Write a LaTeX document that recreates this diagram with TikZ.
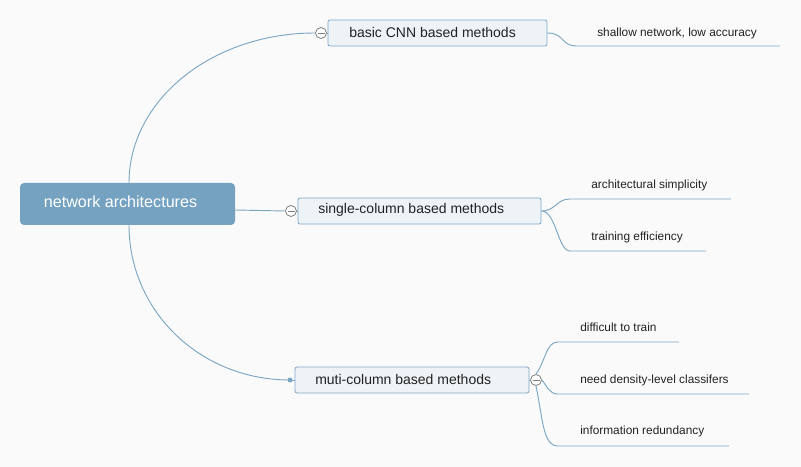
\documentclass[tikz,border=0pt]{standalone}
\usepackage{fontspec}
\setmainfont{Liberation Sans}
\definecolor{bg}{HTML}{FAFAFA}
\definecolor{lnk}{HTML}{7BA6C4}
\definecolor{rootfill}{HTML}{74A2C0}
\definecolor{boxfill}{HTML}{EEF3F7}
\definecolor{boxline}{HTML}{7DA7C7}
\definecolor{txt}{HTML}{222222}
\begin{document}
\begin{tikzpicture}[x=0.75pt,y=-0.75pt,
  link/.style={draw=lnk,line width=0.7pt},
  rootbox/.style={fill=rootfill,rounded corners=3pt,minimum width=215*0.75pt,minimum height=42*0.75pt,inner sep=0pt},
  topicbox/.style={draw=boxline,fill=boxfill,rounded corners=1.5pt,line width=0.6pt,minimum height=26*0.75pt,inner sep=0pt},
  topictext/.style={text=txt,font=\fontsize{10.5}{12}\selectfont,inner sep=0pt,anchor=west},
  leaf/.style={anchor=west,inner sep=0pt,text=txt,font=\fontsize{8.9}{10}\selectfont},
  collapse/.style={circle,draw=gray,fill=white,line width=0.6pt,minimum size=11*0.75pt,inner sep=0pt,path picture={\draw[gray,line width=0.6pt] ([xshift=-3.5*0.75pt]path picture bounding box.center) -- ([xshift=3.5*0.75pt]path picture bounding box.center);}},
  dot/.style={circle,fill=lnk,minimum size=5*0.75pt,inner sep=0pt}]
\fill[bg] (0,0) rectangle (801,467);
\useasboundingbox (0,0) rectangle (801,467);
% root
\node[rootbox] (root) at (127.5,204) {};
\node[text=white,font=\fontsize{12.1}{14}\selectfont,inner sep=0pt] (roottext) at (120.5,202) {network architectures};
% topics
\node[topicbox,minimum width=219*0.75pt] (n1) at (437.5,33) {};
\node[topictext] (t1) at (349,32) {basic CNN based methods};
\node[topicbox,minimum width=243*0.75pt] (n2) at (419.5,211) {};
\node[topictext] (t2) at (318,210) {single-column based methods};
\node[topicbox,minimum width=234*0.75pt] (n3) at (412,380) {};
\node[topictext] (t3) at (315,379) {muti-column based methods};
% root connectors
\coordinate (r1) at (129,183);
\coordinate (r3) at (129,225);
\coordinate (r2) at (235,210);
\node[collapse] (c1) at (321,33) {};
\node[collapse] (c2) at (291,211) {};
\node[dot] (d3) at (290,380) {};
\draw[link] (r1) .. controls (129,100) and (212,33) .. (c1.west);
\draw[link] (r2) -- (c2.west);
\draw[link] (r3) .. controls (129,311) and (200,380) .. (d3.center);
\draw[link] (c1.east) -- (n1.west);
\draw[link] (c2.east) -- (n2.west);
\draw[link] (d3.center) -- (n3.west);
% leaves of n1
\node[leaf] (l11) at (597,33) {shallow network, low accuracy};
\coordinate (u11a) at (577,46);
\coordinate (u11b) at (780,46);
\draw[link] (n1.east) .. controls (565,33) and (560,46) .. (u11a) -- (u11b);
% leaves of n2
\node[leaf] (l21) at (591,185) {architectural simplicity};
\coordinate (u21a) at (570,199);
\coordinate (u21b) at (731,199);
\node[leaf] (l22) at (591,237) {training efficiency};
\coordinate (u22a) at (570,251);
\coordinate (u22b) at (706,251);
\draw[link] (n2.east) .. controls (556,211) and (556,199) .. (u21a) -- (u21b);
\draw[link] (n2.east) .. controls (556,211) and (558,251) .. (u22a) -- (u22b);
% leaves of n3
\node[collapse] (c3) at (536,380) {};
\draw[link] (n3.east) -- (c3.west);
\node[leaf] (l31) at (580,327) {difficult to train};
\coordinate (u31a) at (558,342);
\coordinate (u31b) at (679,342);
\node[leaf] (l32) at (580,380) {need density-level classifers};
\coordinate (u32a) at (558,394);
\coordinate (u32b) at (749,394);
\node[leaf] (l33) at (580,431) {information redundancy};
\coordinate (u33a) at (558,446);
\coordinate (u33b) at (729,446);
\draw[link] (c3.north) .. controls (546,360) and (546,342) .. (u31a) -- (u31b);
\draw[link] (c3.east) .. controls (548,388) and (550,394) .. (u32a) -- (u32b);
\draw[link] (c3.south) .. controls (543,420) and (543,446) .. (u33a) -- (u33b);
\end{tikzpicture}
\end{document}
